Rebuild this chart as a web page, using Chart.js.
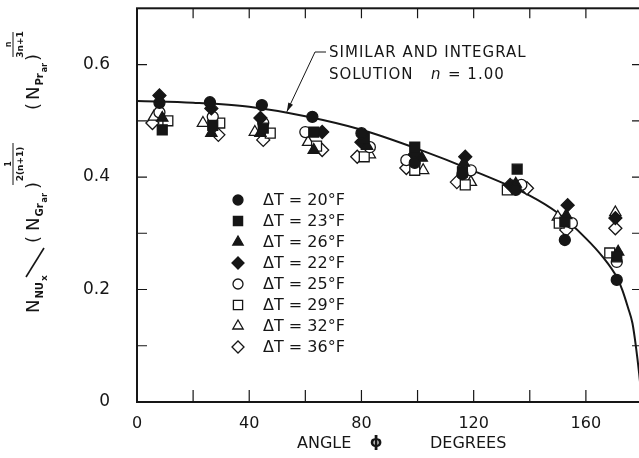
<!DOCTYPE html>
<html>
<head>
<meta charset="utf-8">
<script src="https://cdn.jsdelivr.net/npm/chart.js@4.4.0/dist/chart.umd.min.js"></script>
<style>
  html, body { margin: 0; padding: 0; background: #fff; overflow: hidden; }
  canvas { display: block; }
</style>
</head>
<body>
<canvas id="nusselt" width="652" height="458"></canvas>
<script>
const FONT = '"DejaVu Sans", sans-serif';
const INK = '#161616';

// temperature difference of each run, deg F
const deltaT = [20, 23, 26, 22, 25, 29, 32, 36];

// local Nusselt group vs. angle from the lower stagnation point
const phi20 = [8, 26, 44.5, 62.5, 80, 99, 116, 135, 152.5, 171];
const nu20 = [0.532, 0.533, 0.528, 0.507, 0.478, 0.425, 0.405, 0.377, 0.288, 0.217];
const phi23 = [9, 27, 45, 63, 81, 99, 116, 135.5, 152.5, 171];
const nu23 = [0.484, 0.492, 0.487, 0.480, 0.470, 0.453, 0.409, 0.414, 0.320, 0.258];
const phi26 = [9, 26.5, 44, 63, 82, 101.5, 116.5, 135, 153, 171.5];
const nu26 = [0.505, 0.478, 0.478, 0.448, 0.455, 0.434, 0.425, 0.388, 0.332, 0.267];
const phi22 = [8, 26.5, 44, 66, 80, 99, 117, 133, 153.5, 170.5];
const nu22 = [0.545, 0.522, 0.505, 0.480, 0.462, 0.440, 0.436, 0.386, 0.350, 0.327];
const phi25 = [8, 27, 45, 60, 83, 96, 119, 137, 155, 171];
const nu25 = [0.515, 0.507, 0.496, 0.480, 0.453, 0.430, 0.412, 0.386, 0.318, 0.249];
const phi29 = [11, 29.5, 47.5, 64, 81, 99, 117, 132, 150.5, 168.5];
const nu29 = [0.500, 0.496, 0.478, 0.455, 0.436, 0.412, 0.386, 0.377, 0.318, 0.265];
const phi32 = [6, 23.5, 42, 61, 83, 102, 119, 134, 150, 170.5];
const nu32 = [0.507, 0.496, 0.480, 0.462, 0.440, 0.412, 0.391, 0.383, 0.329, 0.337];
const phi36 = [5.5, 29, 45, 66, 78.5, 96, 114, 139, 153, 170.5];
const nu36 = [0.496, 0.475, 0.466, 0.448, 0.436, 0.416, 0.391, 0.380, 0.306, 0.309];

// similar and integral solution, n = 1.00
const solutionPhi = [0, 20, 40, 60, 80, 100, 120, 140, 150, 160, 166, 171, 173, 175, 176.6, 177.8, 179, 180];
const solutionNu = [0.535, 0.532, 0.525, 0.508, 0.484, 0.450, 0.411, 0.367, 0.336, 0.291, 0.258, 0.222, 0.199, 0.168, 0.140, 0.100, 0.050, 0];

const xTickLabels = [0, 40, 80, 120, 160];
const yTickLabels = ['0', '0.2', '0.4', '0.6'];

const runs = [
  [phi20, nu20], [phi23, nu23], [phi26, nu26], [phi22, nu22],
  [phi25, nu25], [phi29, nu29], [phi32, nu32], [phi36, nu36]
];
const markers = [
  { style: 'circle', r: 5.5, fill: INK },
  { style: 'rect', r: 7, fill: INK },
  { style: 'triangle', r: 6.5, fill: INK },
  { style: 'rectRot', r: 6.5, fill: INK },
  { style: 'circle', r: 5.5, fill: '#fff' },
  { style: 'rect', r: 7, fill: '#fff' },
  { style: 'triangle', r: 6.5, fill: '#fff' },
  { style: 'rectRot', r: 6.5, fill: '#fff' }
];

const toPoints = (xs, ys) => xs.map((v, i) => ({ x: v, y: ys[i] }));

const datasets = runs.map(([xs, ys], i) => ({
  label: 'ΔT = ' + deltaT[i] + '°F',
  data: toPoints(xs, ys),
  showLine: false,
  pointStyle: markers[i].style,
  pointRadius: markers[i].r,
  pointBackgroundColor: markers[i].fill,
  pointBorderColor: INK,
  pointBorderWidth: 1.3
}));

datasets.push({
  type: 'line',
  label: 'solution',
  data: toPoints(solutionPhi, solutionNu),
  borderColor: INK,
  borderWidth: 2,
  pointRadius: 0,
  cubicInterpolationMode: 'monotone',
  order: 10
});

// frame with inward ticks on all four sides
const frameTicks = {
  id: 'frameTicks',
  afterDatasetsDraw(chart) {
    const { ctx, chartArea: a, scales: { x, y } } = chart;
    ctx.save();
    ctx.strokeStyle = INK;
    ctx.lineWidth = 2;
    ctx.strokeRect(a.left, a.top, a.right - a.left, a.bottom - a.top);
    ctx.lineWidth = 1.2;
    ctx.beginPath();
    x.ticks.forEach(t => {
      if (t.value <= x.min || t.value >= x.max) return;
      const px = x.getPixelForValue(t.value);
      ctx.moveTo(px, a.bottom); ctx.lineTo(px, a.bottom - 12);
      ctx.moveTo(px, a.top); ctx.lineTo(px, a.top + 10);
    });
    y.ticks.forEach(t => {
      if (t.value <= y.min || t.value >= y.max) return;
      const py = y.getPixelForValue(t.value);
      ctx.moveTo(a.left, py); ctx.lineTo(a.left + 10, py);
      ctx.moveTo(a.right, py); ctx.lineTo(a.right - 10, py);
    });
    ctx.stroke();
    ctx.restore();
  }
};

// legend, solution label, axis titles
const annotations = {
  id: 'annotations',
  afterDraw(chart) {
    const { ctx, scales: { x, y } } = chart;
    ctx.save();
    ctx.fillStyle = INK;
    ctx.strokeStyle = INK;
    ctx.textBaseline = 'middle';
    ctx.textAlign = 'left';

    // legend
    ctx.font = '16px ' + FONT;
    datasets.slice(0, runs.length).forEach((ds, i) => {
      const cy = 200 + i * 21;
      ctx.fillStyle = markers[i].fill;
      ctx.lineWidth = 1.3;
      Chart.helpers.drawPoint(ctx, { pointStyle: markers[i].style, radius: markers[i].r - 0.5, borderWidth: 1.3, rotation: 0 }, 238, cy);
      ctx.fillStyle = INK;
      ctx.fillText(ds.label, 263, cy + 1);
    });

    // leader to the solution curve
    const tipX = x.getPixelForValue(53.4), tipY = y.getPixelForValue(0.516);
    const kneeX = 315, kneeY = 52;
    ctx.lineWidth = 1;
    ctx.beginPath();
    ctx.moveTo(tipX, tipY); ctx.lineTo(kneeX, kneeY); ctx.lineTo(326, kneeY);
    ctx.stroke();
    const ang = Math.atan2(tipY - kneeY, tipX - kneeX);
    ctx.beginPath();
    ctx.moveTo(tipX, tipY);
    ctx.lineTo(tipX - 9 * Math.cos(ang) + 2.6 * Math.sin(ang), tipY - 9 * Math.sin(ang) - 2.6 * Math.cos(ang));
    ctx.lineTo(tipX - 9 * Math.cos(ang) - 2.6 * Math.sin(ang), tipY - 9 * Math.sin(ang) + 2.6 * Math.cos(ang));
    ctx.closePath();
    ctx.fill();

    ctx.font = '15px ' + FONT;
    ctx.letterSpacing = '1px';
    ctx.fillText('SIMILAR AND INTEGRAL', 329, 53);
    ctx.fillText('SOLUTION', 329, 75);
    ctx.font = 'italic 15px ' + FONT;
    ctx.fillText('n', 431, 75);
    ctx.font = '15px ' + FONT;
    ctx.fillText('= 1.00', 448, 75);
    ctx.letterSpacing = '0px';

    // x axis title
    ctx.font = '16px ' + FONT;
    ctx.fillText('ANGLE', 297, 444);
    ctx.font = 'bold 16px ' + FONT;
    ctx.textAlign = 'center';
    ctx.fillText('ϕ', 376, 443);
    ctx.textAlign = 'left';
    ctx.font = '16px ' + FONT;
    ctx.fillText('DEGREES', 430, 444);

    drawYTitle(ctx);
    ctx.restore();
  }
};

// rotated y title: N_NUx / (N_Gr,ar)^(1/2(n+1)) (N_Pr,ar)^(n/(3n+1))
function drawYTitle(ctx) {
  ctx.save();
  ctx.translate(39, 313);
  ctx.rotate(-Math.PI / 2);
  ctx.textBaseline = 'alphabetic';
  ctx.textAlign = 'left';
  ctx.fillStyle = INK;
  ctx.strokeStyle = INK;
  const put = (txt, font, u, v) => {
    ctx.font = font + ' ' + FONT;
    ctx.fillText(txt, u, v);
    return u + ctx.measureText(txt).width;
  };
  const frac = (num, den, u0, u1) => {
    const mid = (u0 + u1) / 2;
    ctx.textAlign = 'center';
    put(num, 'bold 8px', mid, -28);
    put(den, 'bold 9px', mid, -16);
    ctx.textAlign = 'left';
    ctx.lineWidth = 1;
    ctx.beginPath();
    ctx.moveTo(u0, -26); ctx.lineTo(u1, -26);
    ctx.stroke();
  };

  let u = put('N', '18px', 0, 0);
  u = put('NU', 'bold 10px', u + 1, 4);
  put('x', 'bold 9px', u + 1, 8);

  ctx.lineWidth = 1.6;
  ctx.beginPath();
  ctx.moveTo(36, -13); ctx.lineTo(65, 5);
  ctx.stroke();

  put('(', '18px', 70, 0);
  u = put('N', '18px', 82, 0);
  u = put('Gr', 'bold 10px', u + 1, 4);
  put('ar', 'bold 8px', u + 1, 8);
  put(')', '18px', 124, 0);
  frac('1', '2(n+1)', 128, 170);

  put('(', '18px', 203, 0);
  u = put('N', '18px', 213, 0);
  u = put('Pr', 'bold 10px', u + 1, 4);
  put('ar', 'bold 8px', u + 1, 8);
  put(')', '18px', 252, 0);
  frac('n', '3n+1', 256, 281);
  ctx.restore();
}

new Chart(document.getElementById('nusselt'), {
  type: 'scatter',
  data: { datasets },
  options: {
    responsive: false,
    animation: false,
    events: [],
    layout: { padding: { top: 8, right: 10, left: 0, bottom: 0 } },
    plugins: { legend: { display: false }, tooltip: { enabled: false } },
    scales: {
      x: {
        type: 'linear', min: 0, max: 180,
        grid: { display: false }, border: { display: false },
        afterFit: s => { s.height = 56; s.paddingLeft = 0; s.paddingRight = 0; },
        ticks: {
          stepSize: 20, autoSkip: false, maxRotation: 0, padding: 4,
          color: INK, font: { family: FONT, size: 16 },
          callback: v => xTickLabels.includes(v) ? String(v) : ''
        }
      },
      y: {
        type: 'linear', min: 0, max: 0.7,
        grid: { display: false }, border: { display: false },
        afterFit: s => { s.width = 137; s.paddingTop = 0; s.paddingBottom = 0; },
        ticks: {
          stepSize: 0.1, autoSkip: false, padding: 19,
          color: INK, font: { family: FONT, size: 17 },
          callback: v => {
            const lbl = String(Math.round(v * 10) / 10);
            return yTickLabels.includes(lbl) ? lbl : '';
          }
        }
      }
    }
  },
  plugins: [frameTicks, annotations]
});
</script>
</body>
</html>
